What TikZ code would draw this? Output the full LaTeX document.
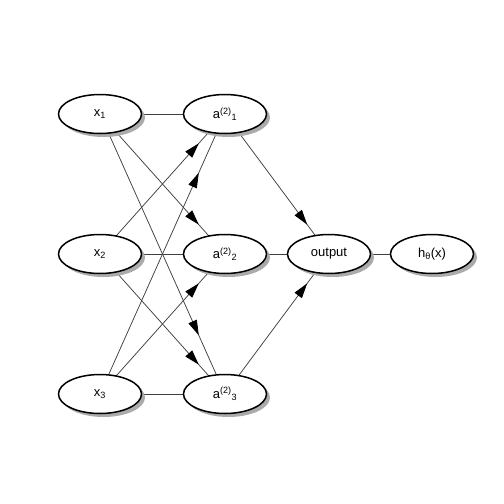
\documentclass[tikz,border=0pt]{standalone}
\usepackage{fontspec}
\setmainfont{Liberation Sans}
\usetikzlibrary{shapes.geometric,shadows,arrows.meta,decorations.markings,backgrounds}
\begin{document}
\begin{tikzpicture}[x=1pt,y=-1pt,
  neuron/.style={ellipse,draw=black,line width=1.5pt,fill=white,
    minimum width=83pt,minimum height=39pt,inner sep=0pt,
    font=\fontsize{13}{15}\selectfont,
    drop shadow={shadow xshift=3.5pt,shadow yshift=-3.5pt,fill=black!33,opacity=1}},
  conn/.style={draw=black!75,line width=0.75pt,postaction={decorate},
    decoration={markings,mark=at position 0.79 with {\arrow[black]{Triangle[length=15pt,width=9pt]}}}}]
\useasboundingbox (0,0) rectangle (504,504);
\node[neuron] (x1) at (100,114) {x\textsubscript{1}};
\node[neuron] (x2) at (100,254) {x\textsubscript{2}};
\node[neuron] (x3) at (100,394) {x\textsubscript{3}};
\node[neuron] (a1) at (225,114) {a\textsuperscript{(2)}\textsubscript{1}};
\node[neuron] (a2) at (225,254) {a\textsuperscript{(2)}\textsubscript{2}};
\node[neuron] (a3) at (225,394) {a\textsuperscript{(2)}\textsubscript{3}};
\node[neuron] (out) at (329,254) {output};
\node[neuron] (h) at (432,254) {h\textsubscript{θ}(x)};
\begin{scope}[on background layer]
\fill[white] (0,0) rectangle (504,504);
\foreach \s in {x1,x2,x3}{
  \foreach \t in {a1,a2,a3}{
    \draw[conn] (\s.center) -- (\t.center);
  }
}
\foreach \s in {a1,a2,a3}{
  \draw[conn] (\s.center) -- (out.center);
}
\draw[conn] (out.center) -- (h.center);
\end{scope}
\end{tikzpicture}
\end{document}
